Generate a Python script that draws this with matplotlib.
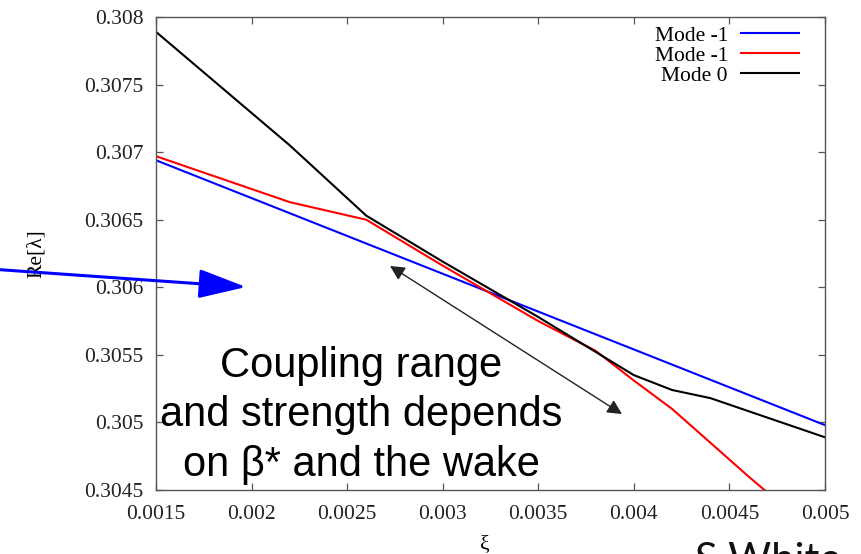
import matplotlib
matplotlib.use("Agg")
import matplotlib.pyplot as plt
from matplotlib.patches import FancyArrowPatch

# growth rate curves vs chromaticity
xi_blue = [0.0015, 0.002, 0.0025, 0.003, 0.0035, 0.004, 0.0045, 0.005]
re_blue = [0.30694, 0.30666, 0.30638, 0.30610, 0.30582, 0.30554, 0.30526, 0.30498]

xi_red = [0.0015, 0.0022, 0.0026, 0.003, 0.0035, 0.0038, 0.004, 0.0042, 0.0044, 0.0046, 0.0048]
re_red = [0.30697, 0.30663, 0.30650, 0.30616, 0.30575, 0.30553, 0.30531, 0.30510, 0.30485, 0.30460, 0.30436]

xi_black = [0.0015, 0.0022, 0.0026, 0.003, 0.0035, 0.004, 0.0042, 0.0044, 0.005]
re_black = [0.30789, 0.30705, 0.30653, 0.30619, 0.30578, 0.30535, 0.30524, 0.30518, 0.30489]

labels = ["Mode -1", "Mode -1", "Mode 0"]

x_ticks = [0.0015, 0.002, 0.0025, 0.003, 0.0035, 0.004, 0.0045, 0.005]
y_ticks = [0.3045, 0.305, 0.3055, 0.306, 0.3065, 0.307, 0.3075, 0.308]

SERIF = "Liberation Serif"
FS = 15.5

fig = plt.figure(figsize=(8.61, 5.54), dpi=100)
ax = fig.add_axes([0.1812, 0.1155, 0.7770, 0.8538])

ax.plot(xi_blue, re_blue, color="#0000ff", lw=1.5, label=labels[0])
ax.plot(xi_red, re_red, color="#ff0000", lw=1.5, label=labels[1])
ax.plot(xi_black, re_black, color="#000000", lw=1.5, label=labels[2])

ax.set_xlim(0.0015, 0.005)
ax.set_ylim(0.3045, 0.308)
ax.set_xticks(x_ticks)
ax.set_xticklabels(["%g" % t for t in x_ticks], fontfamily=SERIF, fontsize=FS, color="#222222")
ax.set_yticks(y_ticks)
ax.set_yticklabels(["%g" % t for t in y_ticks], fontfamily=SERIF, fontsize=FS, color="#222222")
ax.tick_params(direction="in", length=5, width=0.9, color="#555555",
               top=True, right=True)
ax.tick_params(axis="x", pad=11)
ax.tick_params(axis="y", pad=9)
for s in ax.spines.values():
    s.set_color("#555555")
    s.set_linewidth(1.0)

ax.set_ylabel("Re[λ]", fontfamily=SERIF, fontsize=FS)
ax.yaxis.set_label_coords(-0.165, 0.50)
ax.set_xlabel("ξ", fontfamily=SERIF, fontsize=FS)
ax.xaxis.set_label_coords(0.492, -0.095)

leg = ax.legend(loc="upper right", bbox_to_anchor=(0.961, 0.982), markerfirst=False,
                frameon=False, borderpad=0, borderaxespad=0, labelspacing=0.0,
                handlelength=2.7, handletextpad=0.6,
                prop={"family": SERIF, "size": FS})
for t in leg.get_texts():
    t.set_ha("right")

# coupling annotation
ax.annotate("", xy=(0.002724, 0.306158), xytext=(0.003938, 0.305062),
            arrowprops=dict(arrowstyle="<|-|>", color="#222222", lw=1.0,
                            mutation_scale=22, shrinkA=0, shrinkB=0))
ax.text(0.307, 0.158, "Coupling range\nand strength depends\non β* and the wake",
        transform=ax.transAxes, ha="center", va="center", multialignment="center",
        fontfamily="Liberation Sans", fontsize=30, linespacing=1.3, clip_on=False)

# pointer coming in from the left
arr = FancyArrowPatch((-10, 285), (246, 267), transform=None,
                      arrowstyle="-|>,head_length=1.95,head_width=0.6",
                      mutation_scale=15, color="#0000ff", lw=2.2,
                      shrinkA=0, shrinkB=0)
fig.add_artist(arr)

fig.text(0.807, 0.0217, "S White", fontfamily="Lato", fontsize=30, va="top", ha="left",
         color="#111111")

fig.savefig("out.png", dpi=100)
